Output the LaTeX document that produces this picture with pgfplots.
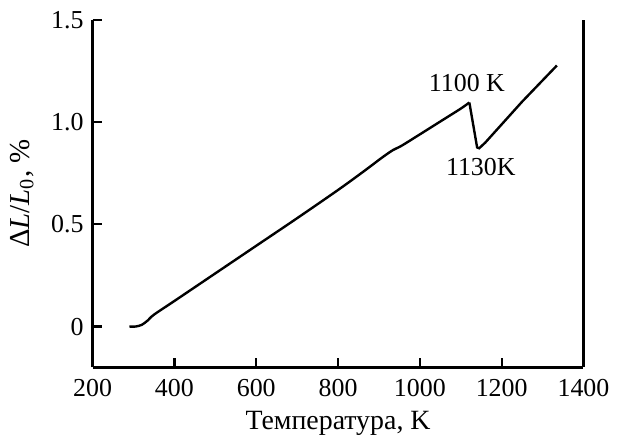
\documentclass[border=0pt]{standalone}
\usepackage{fontspec}
\setmainfont{Liberation Serif}
\usepackage{pgfplots}
\pgfplotsset{compat=1.18}

\begin{document}
\fontsize{13}{15}\selectfont
\begin{tikzpicture}
\begin{axis}[
	scale only axis,
	width = 246.5pt,
	height = 174.5pt,
	xmin = 200, xmax = 1400,
	ymin = -0.2, ymax = 1.5,
	axis x line* = bottom,
	axis y line* = box,
	axis line style = {line width = 1.3pt},
	every tick/.style = {black, line width = 1.1pt},
	major tick length = 4.8pt,
	tick align = inside,
	xtick pos = bottom,
	ytick pos = left,
	xtick = {200, 400, 600, 800, 1000, 1200, 1400},
	ytick = {0, 0.5, 1.0, 1.5},
	yticklabels = {0, 0.5, 1.0, 1.5},
	scaled ticks = false,
	/pgf/number format/1000 sep = {},
	/pgf/number format/assume math mode = true,
	tick label style = {font = \fontsize{13}{15}\selectfont},
	xticklabel style = {anchor = base, yshift = -14.5pt},
	xlabel = {Температура, K},
	xlabel style = {font = \fontsize{14}{16}\selectfont, at = {(rel axis cs:0.5,0)}, anchor = base, inner sep = 0pt, yshift = -31pt},
	ylabel = {Δ\textit{L}/\textit{L}\textsubscript{0}, \%},
	ylabel style = {font = \fontsize{14.5}{16}\selectfont},
	clip = false
]
\addplot[black, line width = 1.2pt, smooth, tension = 0.5] coordinates {
	(290, 0.0)
	(305, 0.0)
	(320, 0.008)
	(335, 0.03)
	(350, 0.058)
	(400, 0.125)
	(500, 0.26)
	(600, 0.395)
	(700, 0.53)
	(800, 0.668)
	(860, 0.755)
	(910, 0.83)
	(935, 0.864)
	(955, 0.884)
	(1000, 0.94)
	(1050, 1.003)
	(1100, 1.066)
	(1121, 1.096)
};
\addplot[black, line width = 1.2pt] coordinates {
	(1121, 1.096)
	(1140, 0.876)
	(1145, 0.872)
	(1160, 0.9)
	(1250, 1.10)
	(1335, 1.277)
};
\node at (axis cs:1115, 1.19) {1100 K};
\node at (axis cs:1149, 0.78) {1130K};
\end{axis}
\path ([shift={(-46.5pt,-33.5pt)}]current axis.south west) rectangle ([shift={(16pt,10pt)}]current axis.north east);
\end{tikzpicture}
\end{document}
